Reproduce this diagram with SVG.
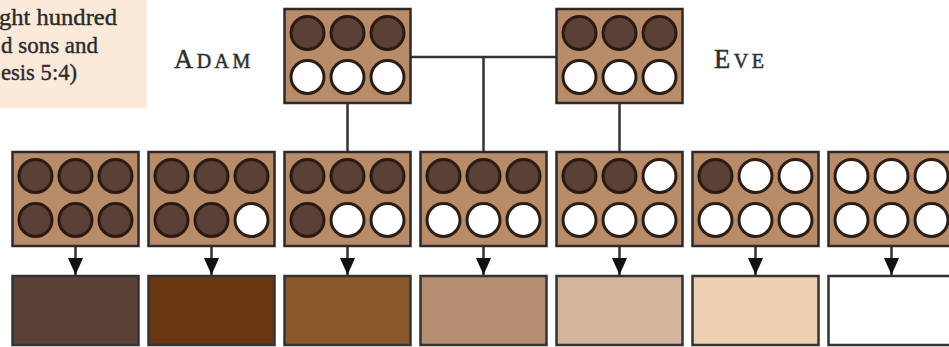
<svg xmlns="http://www.w3.org/2000/svg" width="949" height="347" viewBox="0 0 949 347">
  <style>
    .box { fill: #b88b69; stroke: #2f2a27; stroke-width: 2.5; }
    .dk { fill: #5a4036; stroke: #2a1a12; stroke-width: 3; }
    .wt { fill: #ffffff; stroke: #2a1d15; stroke-width: 3; }
    .wire { fill: none; stroke: #333333; stroke-width: 2.5; }
    .sw { stroke: #333333; stroke-width: 2.5; }
    .quote { font-family: "Liberation Serif", "DejaVu Serif", serif; font-size: 23.5px; fill: #2b2b2b; stroke: #2b2b2b; stroke-width: 0.4; }
    .name { font-family: "Liberation Serif", "DejaVu Serif", serif; fill: #2e2e2e; stroke: #2e2e2e; stroke-width: 0.5; letter-spacing: 3.5px; }
  </style>
  <defs>
    <marker id="arrow" viewBox="0 0 17 15" refX="17" refY="7.5" markerWidth="17" markerHeight="15" markerUnits="userSpaceOnUse" orient="auto">
      <path d="M0,0 L17,7.5 L0,15 z" fill="#111111"/>
    </marker>
    <circle id="d" r="16.5" class="dk"/>
    <circle id="w" r="16.5" class="wt"/>
  </defs>

  <!-- quotation panel, cut at the left edge -->
  <g id="quote">
    <rect x="-10" y="-10" width="157" height="118" fill="#fbe9da"/>
    <text class="quote" x="-1" y="25" textLength="118" lengthAdjust="spacingAndGlyphs">ght hundred</text>
    <text class="quote" x="1" y="53" textLength="97" lengthAdjust="spacingAndGlyphs">d sons and</text>
    <text class="quote" x="1" y="80" textLength="76" lengthAdjust="spacingAndGlyphs">esis 5:4)</text>
  </g>

  <!-- parent labels -->
  <g id="label-adam">
    <text class="name" x="174" y="68"><tspan font-size="26.5">A</tspan><tspan font-size="20">DAM</tspan></text>
  </g>
  <g id="label-eve">
    <text class="name" x="714" y="68"><tspan font-size="26.5">E</tspan><tspan font-size="20">VE</tspan></text>
  </g>

  <!-- connectors -->
  <g id="connectors">
    <path class="wire" d="M410.5,57 H556.5"/>
    <path class="wire" d="M483.5,57 V152"/>
    <path class="wire" d="M347.5,103 V152"/>
    <path class="wire" d="M619.5,103 V152"/>
    <path class="wire" d="M75.5,246 V275" marker-end="url(#arrow)"/>
    <path class="wire" d="M211.5,246 V275" marker-end="url(#arrow)"/>
    <path class="wire" d="M347.5,246 V275" marker-end="url(#arrow)"/>
    <path class="wire" d="M483.5,246 V275" marker-end="url(#arrow)"/>
    <path class="wire" d="M619.5,246 V275" marker-end="url(#arrow)"/>
    <path class="wire" d="M755.5,246 V275" marker-end="url(#arrow)"/>
    <path class="wire" d="M891.5,246 V275" marker-end="url(#arrow)"/>
  </g>

  <!-- parents -->
  <g id="adam" transform="translate(284.5,9)">
    <rect class="box" width="126" height="94"/>
    <use href="#d" x="23" y="24"/><use href="#d" x="63" y="24"/><use href="#d" x="103" y="24"/>
    <use href="#w" x="23" y="68"/><use href="#w" x="63" y="68"/><use href="#w" x="103" y="68"/>
  </g>
  <g id="eve" transform="translate(556.5,9)">
    <rect class="box" width="126" height="94"/>
    <use href="#d" x="23" y="24"/><use href="#d" x="63" y="24"/><use href="#d" x="103" y="24"/>
    <use href="#w" x="23" y="68"/><use href="#w" x="63" y="68"/><use href="#w" x="103" y="68"/>
  </g>

  <!-- children: six, five, ... zero dark alleles -->
  <g id="child-6" transform="translate(12.5,152)">
    <rect class="box" width="126" height="94"/>
    <use href="#d" x="23" y="24"/><use href="#d" x="63" y="24"/><use href="#d" x="103" y="24"/>
    <use href="#d" x="23" y="68"/><use href="#d" x="63" y="68"/><use href="#d" x="103" y="68"/>
  </g>
  <g id="child-5" transform="translate(148.5,152)">
    <rect class="box" width="126" height="94"/>
    <use href="#d" x="23" y="24"/><use href="#d" x="63" y="24"/><use href="#d" x="103" y="24"/>
    <use href="#d" x="23" y="68"/><use href="#d" x="63" y="68"/><use href="#w" x="103" y="68"/>
  </g>
  <g id="child-4" transform="translate(284.5,152)">
    <rect class="box" width="126" height="94"/>
    <use href="#d" x="23" y="24"/><use href="#d" x="63" y="24"/><use href="#d" x="103" y="24"/>
    <use href="#d" x="23" y="68"/><use href="#w" x="63" y="68"/><use href="#w" x="103" y="68"/>
  </g>
  <g id="child-3" transform="translate(420.5,152)">
    <rect class="box" width="126" height="94"/>
    <use href="#d" x="23" y="24"/><use href="#d" x="63" y="24"/><use href="#d" x="103" y="24"/>
    <use href="#w" x="23" y="68"/><use href="#w" x="63" y="68"/><use href="#w" x="103" y="68"/>
  </g>
  <g id="child-2" transform="translate(556.5,152)">
    <rect class="box" width="126" height="94"/>
    <use href="#d" x="23" y="24"/><use href="#d" x="63" y="24"/><use href="#w" x="103" y="24"/>
    <use href="#w" x="23" y="68"/><use href="#w" x="63" y="68"/><use href="#w" x="103" y="68"/>
  </g>
  <g id="child-1" transform="translate(692.5,152)">
    <rect class="box" width="126" height="94"/>
    <use href="#d" x="23" y="24"/><use href="#w" x="63" y="24"/><use href="#w" x="103" y="24"/>
    <use href="#w" x="23" y="68"/><use href="#w" x="63" y="68"/><use href="#w" x="103" y="68"/>
  </g>
  <g id="child-0" transform="translate(828.5,152)">
    <rect class="box" width="126" height="94"/>
    <use href="#w" x="23" y="24"/><use href="#w" x="63" y="24"/><use href="#w" x="103" y="24"/>
    <use href="#w" x="23" y="68"/><use href="#w" x="63" y="68"/><use href="#w" x="103" y="68"/>
  </g>

  <!-- resulting skin tones -->
  <g id="tone-6"><rect class="sw" x="12.5" y="276" width="126" height="69" fill="#5a4035"/></g>
  <g id="tone-5"><rect class="sw" x="148.5" y="276" width="126" height="69" fill="#6b3711"/></g>
  <g id="tone-4"><rect class="sw" x="284.5" y="276" width="126" height="69" fill="#8d572c"/></g>
  <g id="tone-3"><rect class="sw" x="420.5" y="276" width="126" height="69" fill="#b58e72"/></g>
  <g id="tone-2"><rect class="sw" x="556.5" y="276" width="126" height="69" fill="#d4b49c"/></g>
  <g id="tone-1"><rect class="sw" x="692.5" y="276" width="126" height="69" fill="#efcfb2"/></g>
  <g id="tone-0"><rect class="sw" x="828.5" y="276" width="126" height="69" fill="#ffffff"/></g>
</svg>
